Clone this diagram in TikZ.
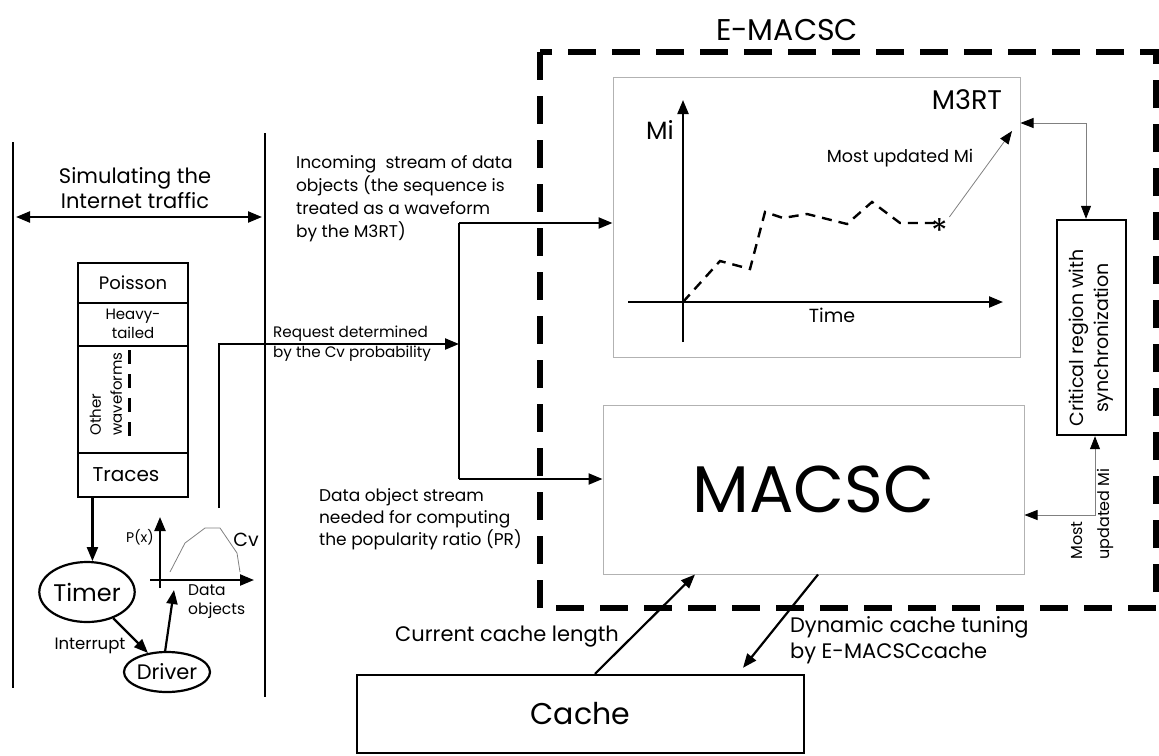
\documentclass[tikz,border=0pt]{standalone}
\usepackage{fontspec}
\setmainfont{Poppins}
\usetikzlibrary{arrows.meta,shapes.geometric,positioning}
\newcommand{\fsz}[2]{\fontsize{#1}{#2}\selectfont}

\begin{document}
\begin{tikzpicture}[x=1pt,y=-1pt,>={Triangle[length=14pt,width=11pt]},
                    tri/.tip={Triangle[length=13pt,width=10pt,color=black]},
                    line width=2.2pt]
  \tikzstyle{every node}=[inner sep=0pt,text=black]
  \tikzstyle{black box}=[draw,line width=2.4pt]
  \tikzstyle{gray box}=[draw=gray!60,line width=1pt]
  \tikzstyle{thin line}=[draw=gray,line width=0.8pt]
  \tikzstyle{big dash}=[line width=6pt,dash pattern=on 28pt off 16pt]
  \tikzstyle{small dash}=[line width=2.4pt,dash pattern=on 10pt off 7pt]

  \useasboundingbox (0,0) rectangle (1159,755);

  % simulator side
  \coordinate (lt) at (13,142);
  \coordinate (lb) at (13,688);
  \coordinate (rt) at (265,133);
  \coordinate (rb) at (265,697);
  \draw (lt) -- (lb);
  \draw (rt) -- (rb);
  \coordinate (sl) at (16,217);
  \coordinate (sr) at (262,217);
  \draw[<->] (sl) -- (sr);
  \node (sim) at (135,188) [align=center,font=\fsz{21}{25}] {Simulating the\\Internet traffic};

  \node[black box,minimum width=110,minimum height=234] (stack) at (133,380) {};
  \foreach \y in {303,346,453}
    \draw (stack.west |- 0,\y) -- (stack.east |- 0,\y);
  \node (poisson) at (133,283) [font=\fsz{18}{20}] {Poisson};
  \node (heavy) at (133,324) [align=center,font=\fsz{15}{19}] {Heavy-\\tailed};
  \node (other) at (106,394) [rotate=90,align=left,font=\fsz{15}{21}] {Other\\waveforms};
  \coordinate (ot) at (129,350);
  \coordinate (ob) at (129,442);
  \draw[small dash,line width=3pt,dash pattern=on 14pt off 10pt] (ot) -- (ob);
  \node (traces) at (126,475) [font=\fsz{20}{22}] {Traces};

  \node (timer) at (87,592) [ellipse,draw,minimum width=94,minimum height=60,font=\fsz{24}{26}] {Timer};
  \node (driver) at (167,672) [ellipse,draw,minimum width=86,minimum height=40,font=\fsz{21}{24}] {Driver};
  \draw[->] (stack.south -| timer.80) -- (timer.80);
  \draw[->] (timer.-45) -- (driver.135);
  \node (intr) at (90,646) [font=\fsz{16.5}{18}] {Interrupt};

  % P(x) plot
  \coordinate (pyb) at (160,588);
  \coordinate (pyt) at (160,517);
  \coordinate (pxl) at (150,580);
  \coordinate (pxr) at (254,580);
  \draw[->] (pyb) -- (pyt);
  \draw[->] (pxl) -- (pxr);
  \draw[gray,line width=0.8pt] (170,572) -- (185,543) -- (205,528) -- (220,528) -- (237,553) -- (240,572);
  \node (px) at (140,537) [font=\fsz{14}{16}] {P(x)};
  \node (cv) at (246,540) [font=\fsz{19}{20}] {Cv};
  \node (dobj) at (187,602) [anchor=west,align=left,font=\fsz{15.5}{19}] {Data\\objects};
  \coordinate (dtip) at (174,590);
  \draw[->] (driver.95) -- (dtip);

  % streams into E-MACSC
  \coordinate (req) at (219,508);
  \coordinate (fork) at (459,344);
  \draw[->] (req) |- (fork);
  \node (reqtxt) at (352,344) [align=left,font=\fsz{15.2}{20}] {Request determined\\by the Cv probability};
  \coordinate (ft) at (459,223);
  \coordinate (fb) at (459,479);
  \draw (ft) -- (fb);
  \node (intxt) at (295,199) [anchor=west,align=left,font=\fsz{17}{23}] {Incoming\ \ stream of data\\objects (the sequence is\\treated as a waveform\\by the M3RT)};
  \node (dostxt) at (318,519) [anchor=west,align=left,font=\fsz{17}{22}] {Data object stream\\needed for computing\\the popularity ratio (PR)};

  % E-MACSC
  \draw[big dash] (540,52) rectangle (1156,608);
  \node (emacsc) at (787,30) [font=\fsz{30}{32}] {E-MACSC};

  \node (m3rt) at (816.5,217) [gray box,minimum width=407,minimum height=280] {};
  \node (m3lbl) at (967,100) [font=\fsz{27}{30}] {M3RT};
  \coordinate (myb) at (683,342);
  \coordinate (myt) at (683,100);
  \coordinate (mxl) at (628,302);
  \coordinate (mxr) at (1003,302);
  \draw[->] (myb) -- (myt);
  \draw[->] (mxl) -- (mxr);
  \node (mi) at (660,130) [font=\fsz{25}{28}] {Mi};
  \node (time) at (832,315) [font=\fsz{19}{20}] {Time};
  \draw[small dash] (683,302) -- (720,261) -- (750,269) -- (765,212) -- (783,218) -- (807,214)
    -- (847,224) -- (872,202) -- (900,223) -- (940,223);
  \node (star) at (940,217) [anchor=north,font=\fsz{34}{34}] {*};
  \coordinate (mtip) at (1012,131);
  \draw[thin line,-tri] (star.north east) -- (mtip);
  \node (mutxt) at (900,158) [font=\fsz{17.5}{20}] {Most updated Mi};
  \draw[->] (ft) -- (ft -| m3rt.west);

  \node (macsc) at (813.5,489.5) [gray box,minimum width=421,minimum height=169,font=\fsz{66}{70}] {MACSC};
  \draw[->] (fb) -- (fb -| macsc.west);

  \node (crit) at (1091.5,327.5) [black box,minimum width=69,minimum height=215] {};
  \node (crittxt) at (1091,338) [rotate=90,align=center,font=\fsz{19}{25}] {Critical region with\\synchronization};
  \coordinate (syn) at (1086,123);
  \draw[thin line,tri-tri] (m3rt.east |- syn) -- (syn) -- (syn |- crit.north);
  \coordinate (lowc) at (1095,515);
  \draw[thin line,tri-tri] (lowc |- crit.south) -- (lowc) -- (lowc -| macsc.east);
  \node (mu2) at (1093,514) [rotate=90,align=left,font=\fsz{16}{27}] {Most\\updated Mi};

  % cache
  \node (cache) at (580.5,714) [black box,minimum width=447,minimum height=78,font=\fsz{30}{32}] {Cache};
  \draw[->] ([xshift=14.5]cache.north) -- ([xshift=-118.5]macsc.south);
  \draw[->] ([xshift=4.5]macsc.south) -- ([xshift=162.5,yshift=6]cache.north);
  \node (curtxt) at (620,637) [anchor=east,font=\fsz{21}{22}] {Current cache length};
  \node (dyntxt) at (789,640) [anchor=west,align=left,font=\fsz{21}{26}] {Dynamic cache tuning\\by E-MACSCcache};
\end{tikzpicture}
\end{document}
